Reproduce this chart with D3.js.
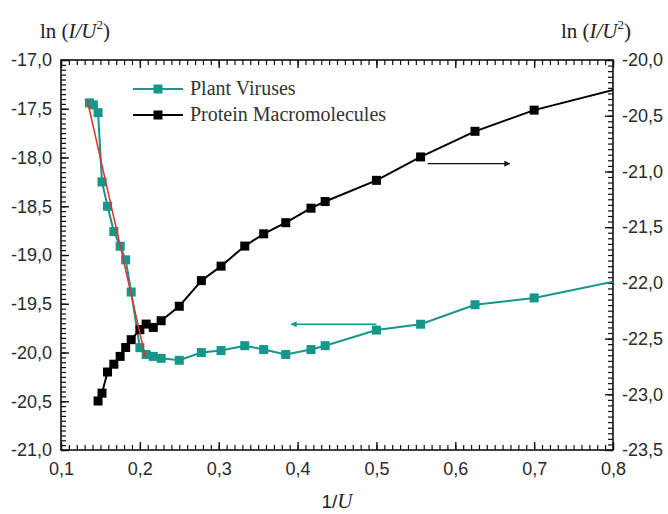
<!DOCTYPE html>
<html lang="en">
<head>
<meta charset="UTF-8">
<title>ln(I/U^2) vs 1/U</title>
<style>
  body, html { margin: 0; padding: 0; background: #fff; }
  svg { display: block; }
  .tick text { font-family: "Liberation Sans", Arial, sans-serif; font-size: 18px; fill: #2a2a2a; }
  .title { font-family: "Liberation Serif", "Times New Roman", serif; font-size: 21px; fill: #222; }
  .legend text { font-family: "Liberation Serif", "Times New Roman", serif; font-size: 20px; fill: #333; }
</style>
</head>
<body>
<svg width="668" height="514"></svg>
<script src="https://d3js.org/d3.v7.min.js"></script>
<script>
// Plant viruses (left axis)
const virusX = [0.136, 0.141, 0.147, 0.152, 0.159, 0.167, 0.175, 0.182, 0.189, 0.2, 0.208, 0.217, 0.227, 0.25,
                0.278, 0.303, 0.333, 0.357, 0.385, 0.417, 0.435, 0.5, 0.556, 0.625, 0.7, 0.833];
const virusY = [-17.44, -17.46, -17.54, -18.25, -18.5, -18.76, -18.91, -19.05, -19.38, -19.95, -20.02, -20.04, -20.06, -20.08,
                -20.0, -19.98, -19.93, -19.97, -20.02, -19.97, -19.93, -19.77, -19.71, -19.51, -19.44, -19.22];
// Protein macromolecules (right axis)
const proteinX = [0.147, 0.152, 0.159, 0.167, 0.175, 0.182, 0.189, 0.2, 0.208, 0.217, 0.227, 0.25,
                  0.278, 0.303, 0.333, 0.357, 0.385, 0.417, 0.435, 0.5, 0.556, 0.625, 0.7, 0.833];
const proteinY = [-23.06, -22.99, -22.8, -22.73, -22.66, -22.58, -22.51, -22.42, -22.37, -22.4, -22.34, -22.21,
                  -21.98, -21.85, -21.67, -21.56, -21.46, -21.33, -21.27, -21.08, -20.87, -20.64, -20.45, -20.21];
// red fit line through the virus drop
const fitX = [0.133, 0.207];
const fitY = [-17.4, -20.05];
// arrows pointing at the axis each series belongs to
const arrowVirus = { x: [0.5, 0.392], y: -19.71 };
const arrowProtein = { x: [0.565, 0.669], y: -20.93 };

const xTicks = [0.1, 0.2, 0.3, 0.4, 0.5, 0.6, 0.7, 0.8];
const leftTicks = [-17, -17.5, -18, -18.5, -19, -19.5, -20, -20.5, -21];
const rightTicks = [-20, -20.5, -21, -21.5, -22, -22.5, -23, -23.5];

const teal = "#17968a";
const svg = d3.select("svg");
const m = { left: 61, right: 613, top: 60, bottom: 450 };

const x = d3.scaleLinear().domain([0.1, 0.8]).range([m.left, m.right]);
const yL = d3.scaleLinear().domain([-21, -17]).range([m.bottom, m.top]);
const yR = d3.scaleLinear().domain([-23.5, -20]).range([m.bottom, m.top]);

const fmt = d => d3.format(".1f")(d).replace(".", ",").replace("−", "-");

const defs = svg.append("defs");
defs.append("clipPath").attr("id", "clip")
  .append("rect").attr("x", m.left).attr("y", m.top)
  .attr("width", m.right - m.left).attr("height", m.bottom - m.top);

function drawAxis(axis, transform, w) {
  const g = svg.append("g").attr("transform", transform).call(axis);
  g.select(".domain").remove();
  g.selectAll(".tick line").attr("stroke", "#111").attr("stroke-width", w);
  return g;
}

// minor ticks, all pointing inward
const minorX = d3.range(100, 801, 10).map(d => d / 1000);
const minorL = d3.range(-420, -339).map(d => d / 20);
const minorR = d3.range(-470, -399).map(d => d / 20);
drawAxis(d3.axisBottom(x).tickValues(minorX).tickSize(-5).tickFormat(""), `translate(0,${m.bottom})`, 1.2);
drawAxis(d3.axisTop(x).tickValues(minorX).tickSize(-5).tickFormat(""), `translate(0,${m.top})`, 1.2);
drawAxis(d3.axisLeft(yL).tickValues(minorL).tickSize(-5).tickFormat(""), `translate(${m.left},0)`, 1.2);
drawAxis(d3.axisRight(yR).tickValues(minorR).tickSize(-5).tickFormat(""), `translate(${m.right},0)`, 1.2);

// major ticks + labels
drawAxis(d3.axisBottom(x).tickValues(xTicks).tickSize(-8).tickPadding(12).tickFormat(fmt), `translate(0,${m.bottom})`, 1.4);
drawAxis(d3.axisTop(x).tickValues(xTicks).tickSize(-8).tickFormat(""), `translate(0,${m.top})`, 1.4);
drawAxis(d3.axisLeft(yL).tickValues(leftTicks).tickSize(-8).tickPadding(9).tickFormat(fmt), `translate(${m.left},0)`, 1.4);
drawAxis(d3.axisRight(yR).tickValues(rightTicks).tickSize(-8).tickPadding(9).tickFormat(fmt), `translate(${m.right},0)`, 1.4);

svg.append("rect").attr("x", m.left).attr("y", m.top)
  .attr("width", m.right - m.left).attr("height", m.bottom - m.top)
  .attr("fill", "none").attr("stroke", "#111").attr("stroke-width", 1.6);

// titles
function lnTitle(cx) {
  const t = svg.append("text").attr("class", "title").attr("x", cx).attr("y", 38).attr("text-anchor", "middle");
  t.append("tspan").text("ln (");
  t.append("tspan").attr("font-style", "italic").text("I/U");
  t.append("tspan").attr("font-size", 13).attr("dy", -9).text("2");
  t.append("tspan").attr("dy", 9).text(")");
}
lnTitle(75);
lnTitle(596);
const xt = svg.append("text").attr("x", (m.left + m.right) / 2).attr("y", 508).attr("text-anchor", "middle").attr("fill", "#222");
xt.append("tspan").attr("font-family", "Liberation Sans, Arial, sans-serif").attr("font-size", 19).text("1/");
xt.append("tspan").attr("font-family", "Liberation Serif, serif").attr("font-style", "italic").attr("font-size", 21).text("U");

const plot = svg.append("g").attr("clip-path", "url(#clip)");
const virus = virusX.map((v, i) => [v, virusY[i]]);
const protein = proteinX.map((v, i) => [v, proteinY[i]]);

plot.append("path").datum(virus)
  .attr("d", d3.line().x(d => x(d[0])).y(d => yL(d[1])))
  .attr("fill", "none").attr("stroke", teal).attr("stroke-width", 2);
plot.append("path").datum(protein)
  .attr("d", d3.line().x(d => x(d[0])).y(d => yR(d[1])))
  .attr("fill", "none").attr("stroke", "#000").attr("stroke-width", 2);

const s = 9;
plot.selectAll(".pm").data(protein.filter(d => d[0] <= 0.8)).enter().append("rect")
  .attr("x", d => x(d[0]) - s / 2).attr("y", d => yR(d[1]) - s / 2)
  .attr("width", s).attr("height", s).attr("fill", "#000");
plot.selectAll(".vm").data(virus.filter(d => d[0] <= 0.8)).enter().append("rect")
  .attr("x", d => x(d[0]) - s / 2).attr("y", d => yL(d[1]) - s / 2)
  .attr("width", s).attr("height", s).attr("fill", teal);

plot.append("line")
  .attr("x1", x(fitX[0])).attr("y1", yL(fitY[0])).attr("x2", x(fitX[1])).attr("y2", yL(fitY[1]))
  .attr("stroke", "#e03030").attr("stroke-width", 1.5);

// arrows
[["ahT", teal], ["ahK", "#111"]].forEach(([id, c]) => {
  defs.append("marker").attr("id", id).attr("viewBox", "0 0 10 10").attr("refX", 9).attr("refY", 5)
    .attr("markerWidth", 12).attr("markerHeight", 6).attr("markerUnits", "userSpaceOnUse").attr("orient", "auto")
    .append("path").attr("d", "M0,0L10,5L0,10Z").attr("fill", c);
});
svg.append("line").attr("x1", x(arrowVirus.x[0])).attr("x2", x(arrowVirus.x[1]))
  .attr("y1", yL(arrowVirus.y)).attr("y2", yL(arrowVirus.y))
  .attr("stroke", teal).attr("stroke-width", 1.5).attr("marker-end", "url(#ahT)");
svg.append("line").attr("x1", x(arrowProtein.x[0])).attr("x2", x(arrowProtein.x[1]))
  .attr("y1", yR(arrowProtein.y)).attr("y2", yR(arrowProtein.y))
  .attr("stroke", "#111").attr("stroke-width", 1.2).attr("marker-end", "url(#ahK)");

// legend
const legend = svg.append("g").attr("class", "legend");
[["Plant Viruses", teal, 89], ["Protein Macromolecules", "#000", 115]].forEach(([name, c, ly]) => {
  legend.append("line").attr("x1", 133).attr("x2", 183).attr("y1", ly).attr("y2", ly)
    .attr("stroke", c).attr("stroke-width", 2);
  legend.append("rect").attr("x", 158 - s / 2).attr("y", ly - s / 2).attr("width", s).attr("height", s).attr("fill", c);
  legend.append("text").attr("x", 190).attr("y", ly + 6).text(name);
});
</script>
</body>
</html>
